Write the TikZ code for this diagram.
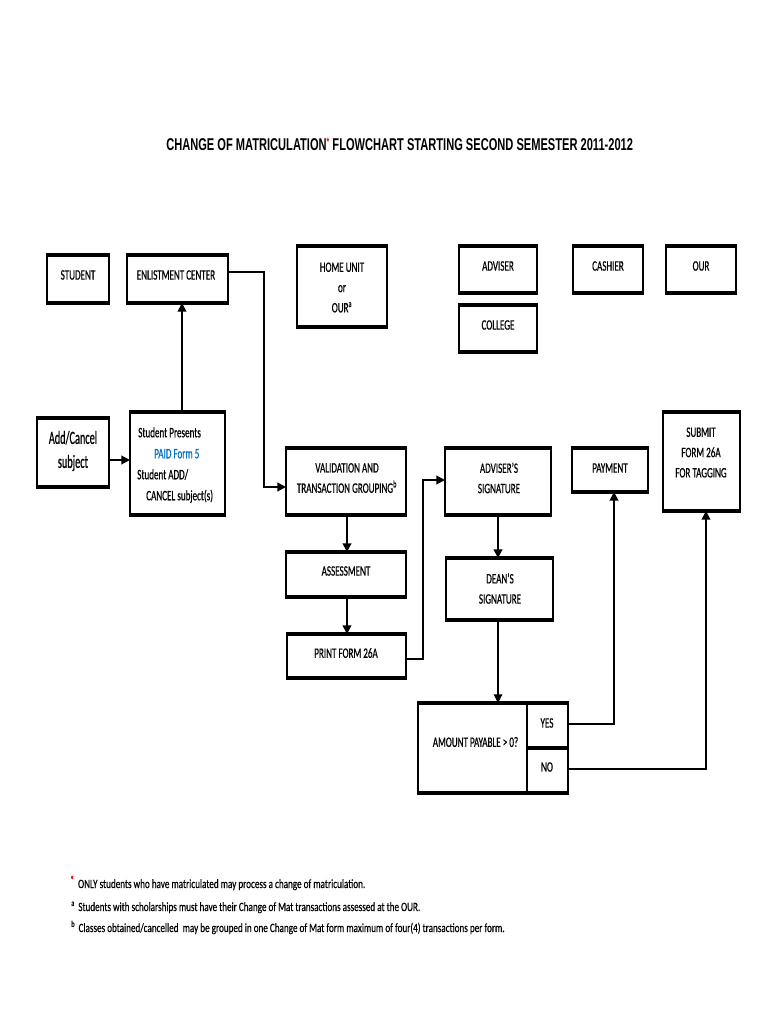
\documentclass[tikz,border=0pt]{standalone}
\usepackage{fontspec}
\setmainfont{Carlito}[FakeStretch=0.63, FakeBold=0.6]
\newfontfamily\footfont{Carlito}[FakeStretch=0.72, FakeBold=0.4]
\newfontfamily\bigfont{Carlito}[FakeStretch=0.55, FakeBold=0.6]
\newfontfamily\titlefont{Liberation Sans}[FakeStretch=0.65]
\usetikzlibrary{arrows.meta,calc}
\definecolor{formblue}{RGB}{0,112,192}
\definecolor{starred}{RGB}{230,0,0}
\tikzset{
  box/.style 2 args={draw, line width=1.8pt, inner sep=0pt, outer sep=0pt,
    minimum width=#1*0.75pt, minimum height=#2*0.75pt},
  txt/.style={inner sep=0pt, font=\fontsize{10.8}{15.2}\selectfont, align=center},
  arr/.style={line width=1.4pt, -{Triangle[length=6.5pt,width=6.5pt]}},
  link/.style={line width=1.4pt},
  foot/.style={inner sep=0pt, anchor=base west, font=\footfont\fontsize{9.5}{11}\selectfont},
}
\newcommand{\redstar}{\raisebox{3.5pt}{\textcolor{starred}{\fontsize{8}{8}\selectfont *}}}
\begin{document}
\begin{tikzpicture}[x=0.75pt,y=-0.75pt]
\useasboundingbox[fill=white] (0,0) rectangle (768,1024);

% title
\node[anchor=base west, inner sep=0pt, font=\titlefont\bfseries\fontsize{12.8}{14}\selectfont] (title) at (166,150)
  {CHANGE OF MATRICULATION\redstar\ FLOWCHART STARTING SECOND SEMESTER 2011-2012};

% top row boxes
\node[box={62}{48}]  (student) at (78,279) {};
\node[box={101}{48}] (enlist)  at (177.5,279) {};
\node[box={90}{81}]  (home)    at (342,286.5) {};
\node[box={78}{47}]  (adviser) at (498,269.5) {};
\node[box={78}{47}]  (college) at (498,328.5) {};
\node[box={70}{47}]  (cashier) at (608,269.5) {};
\node[box={70}{47}]  (our)     at (701,269.5) {};

\node[txt] (student-t) at (78,275) {STUDENT};
\node[txt] (enlist-t)  at (176,275) {ENLISTMENT CENTER};
\node[txt] (home-t)    at (342,287.5) {HOME UNIT\\or\\OUR\textsuperscript{a}};
\node[txt] (adviser-t) at (498,266) {ADVISER};
\node[txt] (college-t) at (498,325) {COLLEGE};
\node[txt] (cashier-t) at (608,266) {CASHIER};
\node[txt] (our-t)     at (701,266) {OUR};

% process boxes
\node[box={72}{69}]   (addc)    at (73,452.5) {};
\node[box={95}{103}]  (present) at (177.5,463.5) {};
\node[box={120}{67}]  (valid)   at (346,481.5) {};
\node[box={106}{67}]  (advsig)  at (498,481.5) {};
\node[box={76}{44}]   (payment) at (610,470) {};
\node[box={77}{99}]   (submit)  at (701.5,461.5) {};
\node[box={120}{45}]  (assess)  at (346,574.5) {};
\node[box={119}{44}]  (print)   at (346.5,656) {};
\node[box={107}{62}]  (dean)    at (499.5,589) {};
\node[box={109}{90}]  (amount)  at (472.5,748) {};
\node[box={41}{45}]   (yes)     at (547.5,725.5) {};
\node[box={41}{45}]   (no)      at (547.5,770.5) {};

\node[txt, font=\bigfont\fontsize{14}{18}\selectfont] (addc-t) at (73,451) {Add/Cancel\\subject};
\node[txt, align=left, anchor=north west, font=\fontsize{10.8}{15.75}\selectfont] (present-t) at (137,427)
  {\hspace*{0.75pt}Student Presents\\\hspace*{12.75pt}\textcolor{formblue}{PAID Form 5}\\Student ADD/\\\hspace*{6.75pt}CANCEL subject(s)};
\node[txt] (valid-t)   at (347,478) {VALIDATION AND\\TRANSACTION GROUPING\textsuperscript{b}};
\node[txt] (advsig-t)  at (499,478) {ADVISER'S\\SIGNATURE};
\node[txt] (payment-t) at (610,468) {PAYMENT};
\node[txt] (submit-t)  at (701,452.5) {SUBMIT\\FORM 26A\\FOR TAGGING};
\node[txt] (assess-t)  at (346,571) {ASSESSMENT};
\node[txt] (dean-t)    at (500,588.5) {DEAN'S\\SIGNATURE};
\node[txt] (print-t)   at (346,653) {PRINT FORM 26A};
\node[txt] (amount-t)  at (475.5,742) {AMOUNT PAYABLE > 0?};
\node[txt] (yes-t)     at (547,723) {YES};
\node[txt] (no-t)      at (547,767) {NO};

% heavier top and bottom edges
\foreach \n in {student,enlist,home,adviser,college,cashier,our,addc,present,valid,advsig,payment,submit,assess,print,dean,amount,yes,no}
  \draw[line width=2.8pt] ([xshift=-0.9pt]\n.north west) -- ([xshift=0.9pt]\n.north east)
                          ([xshift=-0.9pt]\n.south west) -- ([xshift=0.9pt]\n.south east);

% helper coordinates
\coordinate (y460) at (0,460);
\coordinate (y272) at (0,272);
\coordinate (y487) at (0,487);
\coordinate (y659) at (0,659);
\coordinate (y480) at (0,480);
\coordinate (y724) at (0,724);
\coordinate (y769) at (0,769);
\coordinate (x182) at (182,0);
\coordinate (x347) at (347,0);
\coordinate (x498) at (498,0);
\coordinate (x614) at (614,0);
\coordinate (x706) at (706,0);

% connectors
\draw[arr] (addc.east |- y460) -- (present.west |- y460);
\draw[arr] (present.north -| x182) -- (enlist.south -| x182);
\draw[arr] (enlist.east |- y272) -- (264,272) -- (264,487) -- (valid.west |- y487);
\draw[arr] (valid.south -| x347) -- (assess.north -| x347);
\draw[arr] (assess.south -| x347) -- (print.north -| x347);
\draw[arr] (print.east |- y659) -- (423,659) -- (423,480) -- (advsig.west |- y480);
\draw[arr] (advsig.south -| x498) -- (dean.north -| x498);
\draw[line width=0.8pt, -{Triangle[length=6.5pt,width=6.5pt]}] (dean.south -| x498) -- (amount.north -| x498);
\draw[arr] (yes.east |- y724) -- (614,724) -- (payment.south -| x614);
\draw[arr] (no.east |- y769) -- (706,769) -- (submit.south -| x706);

% footnotes
\node[foot] (note1) at (70,888) {\redstar\hspace{3pt}ONLY students who have matriculated may process a change of matriculation.};
\node[foot] (note2) at (71,911) {\textsuperscript{a}\hspace{2.5pt}Students with scholarships must have their Change of Mat transactions assessed at the OUR.};
\node[foot] (note3) at (71,932) {\textsuperscript{b}\hspace{2.5pt}Classes obtained/cancelled\ \ may be grouped in one Change of Mat form maximum of four(4) transactions per form.};
\end{tikzpicture}
\end{document}
